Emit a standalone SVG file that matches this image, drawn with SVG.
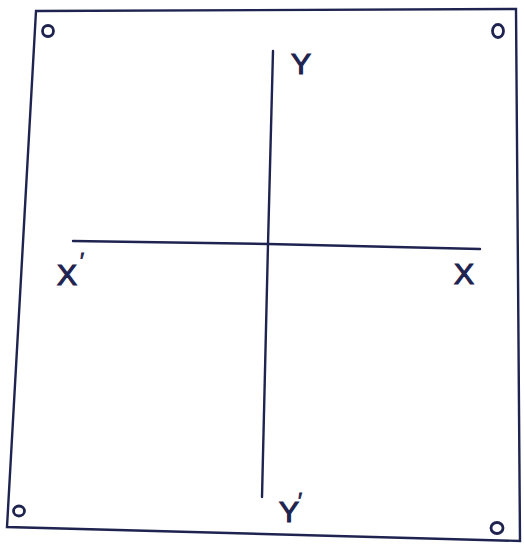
<svg xmlns="http://www.w3.org/2000/svg" width="524" height="547" viewBox="0 0 524 547">
<style>
.ln{stroke:#1f2350;stroke-width:2.4;fill:none;stroke-linecap:round}
.hole{stroke:#1f2350;stroke-width:2.8;fill:none}
.lbl{font-family:"Liberation Sans","DejaVu Sans",sans-serif;font-size:30px;fill:#1f2350;stroke:#1f2350;stroke-width:1.2}
.pr{font-family:"Liberation Sans","DejaVu Sans",sans-serif;font-size:22px;fill:#1f2350;stroke:#1f2350;stroke-width:0.8}
</style>
<rect width="524" height="547" fill="#ffffff"/>
<g id="sheet">
<path class="ln" d="M36 11 L516 9 L520 541 L7 527 Z"/>
<ellipse class="hole" cx="48" cy="31" rx="5.5" ry="5.5"/>
<ellipse class="hole" cx="498" cy="31" rx="5.5" ry="6.5"/>
<ellipse class="hole" cx="19" cy="511" rx="5.5" ry="5"/>
<ellipse class="hole" cx="497" cy="528" rx="6" ry="5.5"/>
</g>
<g id="connectors">
<path class="ln" d="M273 51 L268 244 L262 497"/>
<path class="ln" d="M73 241 L268 244 L480 249"/>
</g>
<g id="label-Y"><text class="lbl" x="291" y="74">Y</text></g>
<g id="label-Xp"><text class="lbl" x="57" y="285">X</text><text class="pr" x="80" y="268">′</text></g>
<g id="label-X"><text class="lbl" x="454" y="284">X</text></g>
<g id="label-Yp"><text class="lbl" x="279" y="522">Y</text><text class="pr" x="298" y="508">′</text></g>
</svg>
